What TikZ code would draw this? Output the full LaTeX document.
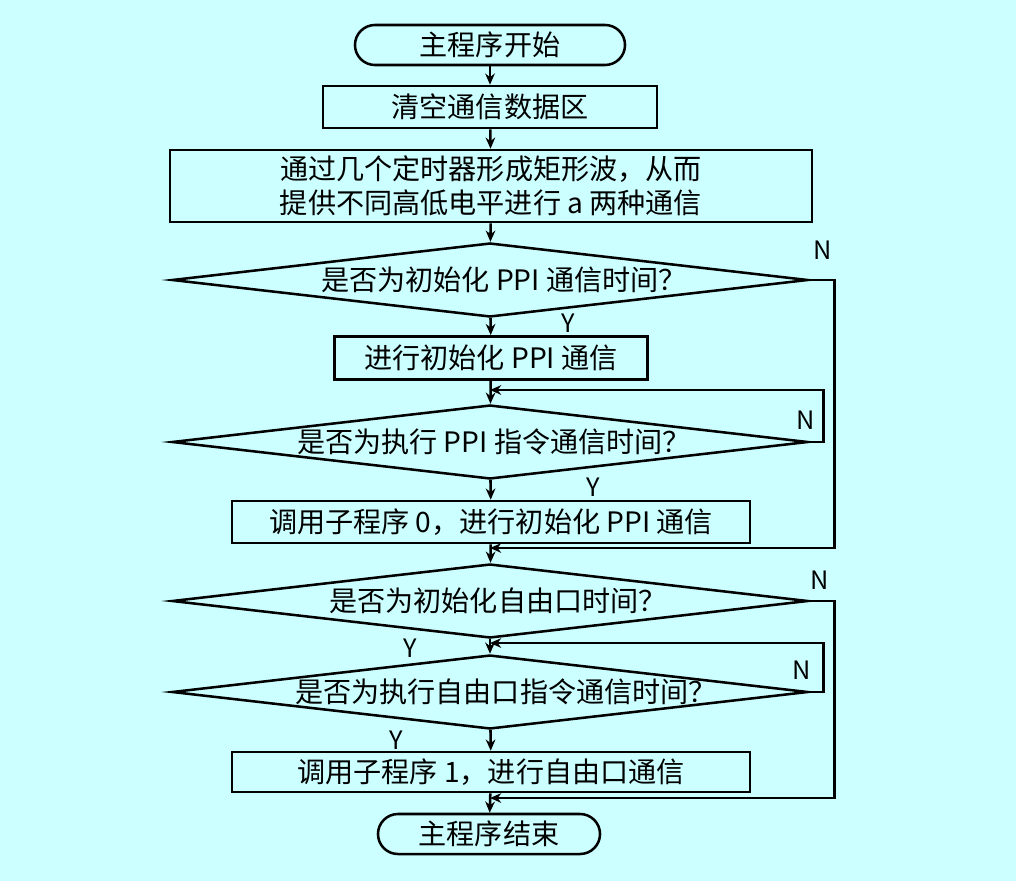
\documentclass[tikz,border=0pt]{standalone}
\usepackage{fontspec}
\setmainfont{Noto Sans CJK SC}
\usetikzlibrary{arrows.meta, shapes.geometric, calc}
\definecolor{pagebg}{RGB}{204,255,255}

\begin{document}
\begin{tikzpicture}[
    x=0.025cm, y=-0.025cm,
    line width=1.8pt,
    every node/.style={font=\fontsize{20}{24}\selectfont},
    terminal/.style={draw, rounded corners=0.5cm, minimum height=1cm, inner sep=0pt},
    procbox/.style={draw, rectangle, minimum height=1.05cm, inner sep=0pt, align=center},
    decision/.style={draw, diamond, inner sep=0pt, minimum width=15.9cm, minimum height=1.85cm},
    flow/.style={-{Stealth[length=2.8mm, width=2.4mm]}},
    yn/.style={font=\fontsize{18}{20}\selectfont},
]

% background, fixes the page size
\fill[pagebg] (0,0) rectangle (1016,881);
\useasboundingbox (0,0) rectangle (1016,881);

% ===== main column =====
\node[terminal, minimum width=6.75cm] (start) at (490,45) {主程序开始};
\node[procbox, minimum width=8.35cm] (clear) at (490,107) {清空通信数据区};
\node[procbox, minimum width=16.05cm, minimum height=1.8cm] (timer) at (491,186)
  {通过几个定时器形成矩形波，从而\\提供不同高低电平进行 a 两种通信};

\node[decision] (q1) at (490,280) {};
\node (q1txt) at ($(q1)+(14,0)$) {是否为初始化 PPI 通信时间？};
\node[procbox, minimum width=7.83cm, minimum height=1.08cm] (ppi) at (491,358) {进行初始化 PPI 通信};

\node[decision] (q2) at (490,442) {};
\node (q2txt) at ($(q2)+(4,0)$) {是否为执行 PPI 指令通信时间？};
\node[procbox, minimum width=12.95cm] (sub0) at (491,522) {调用子程序 0，进行初始化 PPI 通信};

\node[decision] (q3) at (490,601) {};
\node (q3txt) at ($(q3)+(8,0)$) {是否为初始化自由口时间？};
\node[decision] (q4) at (490,692) {};
\node (q4txt) at ($(q4)+(16,0)$) {是否为执行自由口指令通信时间？};
\node[procbox, minimum width=12.95cm, minimum height=1cm] (sub1) at (491,772) {调用子程序 1，进行自由口通信};

\node[terminal, minimum width=5.55cm] (finish) at (489,834) {主程序结束};

% merge points on the centre line
\coordinate (m1) at (490,390);
\coordinate (m2) at (490,548);
\coordinate (m3) at (490,643);
\coordinate (m4) at (490,798);

% ===== downward flow =====
\draw[flow] (start) -- (clear);
\draw[flow] (clear) -- (timer);
\draw[flow] (timer) -- (q1);
\draw[flow] (q1) -- (ppi);
\draw[flow] (ppi) -- (q2);
\draw[flow] (q2) -- (sub0);
\draw[flow] (sub0) -- (q3);
\draw[flow] (q3) -- (q4);
\draw[flow] (q4) -- (sub1);
\draw[flow] (sub1) -- (finish);

% ===== N branches =====
\draw[flow] (q2.east) -- ++(14,0) |- (m1);
\draw[flow] (q1.east) -- ++(25,0) |- (m2);
\draw[flow] (q4.east) -- ++(14,0) |- (m3);
\draw[flow] (q3.east) -- ++(25,0) |- (m4);

% Y / N marks
\node[yn] (n1) at (823,250) {N};
\node[yn] (y1) at (568,323) {Y};
\node[yn] (n2) at (806,420) {N};
\node[yn] (y2) at (593,487) {Y};
\node[yn] (n3) at (820,580) {N};
\node[yn] (y3) at (410,648) {Y};
\node[yn] (n4) at (802,670) {N};
\node[yn] (y4) at (396,740) {Y};

\end{tikzpicture}
\end{document}
